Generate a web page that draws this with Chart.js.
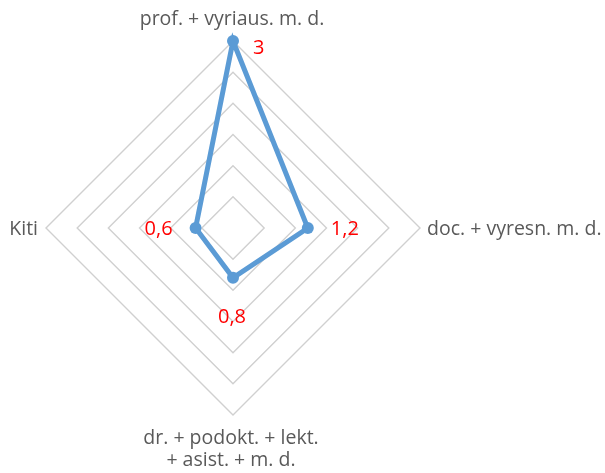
<!DOCTYPE html>
<html>
<head>
<meta charset="utf-8">
<script src="https://cdn.jsdelivr.net/npm/chart.js@4/dist/chart.umd.min.js"></script>
<style>
  html, body { margin: 0; padding: 0; background: #ffffff; }
  #wrap { width: 605px; height: 473px; position: relative; }
</style>
</head>
<body>
<div id="wrap"><canvas id="c" width="605" height="473"></canvas></div>
<script>
// ---- data ----
const categories = [
  ["prof. + vyriaus. m. d."],
  ["doc. + vyresn. m. d."],
  ["dr. + podokt. + lekt.", "+ asist. + m. d."],
  ["Kiti"]
];
const values = [3, 1.2, 0.8, 0.6];
const valueLabels = ["3", "1,2", "0,8", "0,6"];
const scaleMin = 0;
const scaleMax = 3;
const scaleStep = 0.5;

// ---- styling (not data) ----
const FONT = "'Open Sans', 'DejaVu Sans', sans-serif";
const TEXT_COLOR = "#595959";
const LINE_COLOR = "#5B9BD5";
// value-label placement relative to each point: [dx, dy, align]
const valueLabelPlacement = [
  [20, 13, "left"],
  [23, 7, "left"],
  [-1, 45, "center"],
  [-23, 7, "right"]
];
// category-label placement relative to outer vertex: [dx, dyFirstBaseline, align]
const catLabelPlacement = [
  [-1, -16, "center"],
  [7, 7, "left"],
  [-2, 29, "center"],
  [-8, 7, "right"]
];
const catLineHeight = 22;

const labelPlugin = {
  id: "customLabels",
  afterDatasetsDraw(chart) {
    const ctx = chart.ctx;
    const r = chart.scales.r;
    ctx.save();
    ctx.font = "19.5px " + FONT;
    ctx.textBaseline = "alphabetic";
    categories.forEach((lines, i) => {
      const p = r.getPointPositionForValue(i, scaleMax);
      const [dx, dy, align] = catLabelPlacement[i];
      ctx.fillStyle = TEXT_COLOR;
      ctx.textAlign = align;
      lines.forEach((ln, k) => {
        ctx.fillText(ln, p.x + dx, p.y + dy + k * catLineHeight);
      });
    });
    ctx.font = "20px " + FONT;
    ctx.fillStyle = "#FF0000";
    values.forEach((v, i) => {
      const p = r.getPointPositionForValue(i, v);
      const [dx, dy, align] = valueLabelPlacement[i];
      ctx.textAlign = align;
      ctx.fillText(valueLabels[i], p.x + dx, p.y + dy);
    });
    ctx.restore();
  }
};

new Chart(document.getElementById("c"), {
  type: "radar",
  data: {
    labels: categories.map(c => c.join(" ")),
    datasets: [{
      data: values,
      borderColor: LINE_COLOR,
      backgroundColor: LINE_COLOR,
      pointBackgroundColor: LINE_COLOR,
      pointBorderColor: LINE_COLOR,
      borderWidth: 5,
      pointRadius: 6,
      pointBorderWidth: 0,
      fill: false,
      tension: 0
    }]
  },
  options: {
    responsive: false,
    devicePixelRatio: 1,
    animation: false,
    layout: { padding: { left: 45, top: 41, right: 183, bottom: 57 } },
    plugins: { legend: { display: false }, tooltip: { enabled: false } },
    scales: {
      r: {
        min: scaleMin,
        max: scaleMax,
        ticks: { display: false, stepSize: scaleStep },
        grid: { color: "#D0D0D0", lineWidth: 1.4, circular: false },
        angleLines: { display: false },
        pointLabels: { display: false }
      }
    }
  },
  plugins: [labelPlugin]
});
</script>
</body>
</html>
